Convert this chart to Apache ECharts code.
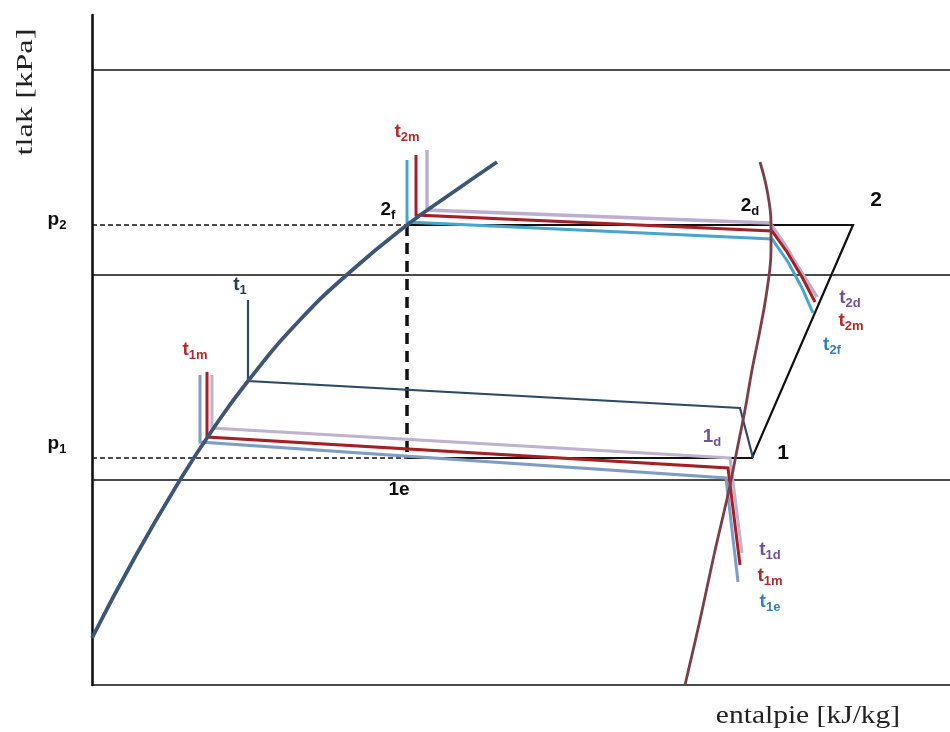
<!DOCTYPE html>
<html>
<head>
<meta charset="utf-8">
<script src="https://cdn.jsdelivr.net/npm/echarts@6/dist/echarts.min.js"></script>
<style>
  html, body { margin: 0; padding: 0; background: #ffffff; }
  #chart { width: 950px; height: 732px; }
</style>
</head>
<body>
<div id="chart"></div>
<script>
// Schematic p-h diagram of a refrigeration cycle.
// Diagram units: enthalpy h along x (0..858), pressure p along y (0..670).
const hRange = [0, 858];
const pRange = [0, 670];

// Evaporating / condensing pressure levels
const p1 = 227;
const p2 = 460;

// Reference isobars drawn across the whole diagram
const isobarLevels = [205, 410, 615];

// Saturation curves
const satLiquid = [[0, 47], [43, 128], [88, 205], [121, 256], [156, 304], [206, 363],
  [258, 413], [315, 460], [360, 492], [405, 523]];
const satVapor = [[668, 523], [675, 495], [679, 462], [679, 435], [675, 395], [668, 355], [660, 315],
  [653, 275], [645, 235], [637, 195], [622, 130], [608, 65], [593, 0]];

// Ideal cycle 1e -> 1 -> 2 -> 2f and the throttling 2f -> 1e
const idealCycle = [[315, p1], [660, p1], [761, p2], [315, p2]];
const throttling = [[315, p2], [315, p1]];
const p2Guide = [[0, p2], [315, p2]];
const p1Guide = [[0, p1], [315, p1]];

// Cycle with evaporation temperature t1
const cycleT1 = [[156, 385], [156, 304], [648, 277], [661, p1]];

// Condenser side profiles (d, m, f)
const condD = [[335, 535], [335, 475], [678, 462], [693, 440], [708, 415], [725, 388]];
const condM = [[324, 530], [324, 470], [680, 454], [695, 433], [710, 408], [723, 383]];
const condF = [[315, 525], [315, 463], [680, 446], [696, 423], [710, 397], [721, 372]];

// Evaporator side profiles (d, m, e)
const evapD = [[120, 310], [120, 257], [638, 227], [650, 132]];
const evapM = [[115, 313], [115, 248], [636, 217], [648, 120]];
const evapE = [[108, 310], [108, 243], [634, 207], [646, 103]];

// State point and temperature labels: main text, subscript, anchor (h, p), tone
const stateLabels = [
  ['t', '2m', [315, 553], 'red'],
  ['2', 'f', [296, 475], 'black'],
  ['2', 'd', [658, 479], 'black'],
  ['2', '', [784, 485], 'black'],
  ['t', '2d', [758, 387], 'purple'],
  ['t', '2m', [759, 364], 'red'],
  ['t', '2f', [740, 340], 'blue'],
  ['t', '1', [148, 400], 'slate'],
  ['t', '1m', [103, 335], 'red'],
  ['p', '2', [-35, 465], 'black'],
  ['p', '1', [-35, 241], 'black'],
  ['1', 'd', [620, 248], 'purple'],
  ['1', '', [691, 232], 'black'],
  ['1e', '', [307, 195], 'black'],
  ['t', '1d', [678, 135], 'purple'],
  ['t', '1m', [678, 109], 'red'],
  ['t', '1e', [678, 83], 'blue']
];

const tones = {
  red: '#b42a2a',
  black: '#0d0d0d',
  purple: '#72509c',
  blue: '#3580b6',
  slate: '#263b55'
};

const SANS = 'Arial, "Liberation Sans", sans-serif';
const SERIF = '"Liberation Serif", "Times New Roman", serif';

function path(name, data, color, width, extra) {
  return Object.assign({
    type: 'line',
    name: name,
    data: data,
    symbol: 'none',
    showSymbol: false,
    silent: true,
    animation: false,
    clip: false,
    lineStyle: { color: color, width: width, cap: 'butt', join: 'miter' }
  }, extra || {});
}

const series = [];

isobarLevels.forEach(function (lvl, i) {
  series.push(path('isobar' + i, [[hRange[0], lvl], [hRange[1], lvl]], '#111111', 1.3, { z: 1 }));
});

series.push(path('p2 guide', p2Guide, '#111111', 1.3, { z: 2, lineStyle: { color: '#111111', width: 1.3, type: [5, 3] } }));
series.push(path('p1 guide', p1Guide, '#111111', 1.3, { z: 2, lineStyle: { color: '#111111', width: 1.3, type: [5, 3] } }));
series.push(path('throttling', throttling, '#111111', 3.5, { z: 2, lineStyle: { color: '#111111', width: 3.5, type: [11, 7] } }));
series.push(path('ideal cycle', idealCycle, '#111111', 2.2, { z: 3 }));
series.push(path('cycle t1', cycleT1, '#2f4a63', 2.2, { z: 4 }));

series.push(path('evap d', evapD, '#c0b2ce', 3, { z: 5 }));
series.push(path('evap e', evapE, '#7f9cc4', 3, { z: 5 }));
series.push(path('evap m', evapM, '#a51f25', 3, { z: 6 }));

series.push(path('cond d', condD, '#bdaecf', 3.5, { z: 5 }));
series.push(path('cond f', condF, '#47a6cf', 3, { z: 5 }));
series.push(path('cond m', condM, '#a51f25', 3, { z: 6 }));

series.push(path('saturated liquid', satLiquid, '#3e5676', 3.8, { z: 7, smooth: 0.5 }));
series.push(path('saturated vapour', satVapor, '#7a3f49', 2.8, { z: 7, smooth: 0.4 }));

// Text labels placed at diagram coordinates
series.push({
  type: 'scatter',
  name: 'labels',
  symbolSize: 0,
  silent: true,
  animation: false,
  clip: false,
  z: 10,
  itemStyle: { opacity: 1 },
  data: stateLabels.map(function (l) {
    const c = tones[l[3]];
    const big = (l[0] === '2' || l[0] === '1') && l[3] === 'black' && l[1] === '';
    return {
      value: l[2],
      label: {
        show: true,
        position: 'inside',
        opacity: 1,
        color: c,
        fontWeight: 'bold',
        fontFamily: SANS,
        formatter: l[1] ? '{m|' + l[0] + '}{s|' + l[1] + '}' : '{m|' + l[0] + '}',
        rich: {
          m: { fontFamily: SANS, fontWeight: 'bold', fontSize: big ? 21 : 19, color: c, lineHeight: 24, verticalAlign: 'middle' },
          s: { fontFamily: SANS, fontWeight: 'bold', fontSize: 13, color: c, lineHeight: 13, verticalAlign: 'bottom' }
        }
      }
    };
  })
});

const chart = echarts.init(document.getElementById('chart'), null, { renderer: 'canvas' });
chart.setOption({
  backgroundColor: '#ffffff',
  animation: false,
  grid: { left: 92, right: 0, top: 15, bottom: 47 },
  xAxis: {
    type: 'value', min: hRange[0], max: hRange[1],
    axisLine: { show: true, lineStyle: { color: '#111111', width: 1.6 } },
    axisTick: { show: false }, axisLabel: { show: false }, splitLine: { show: false }
  },
  yAxis: {
    type: 'value', min: pRange[0], max: pRange[1],
    axisLine: { show: true, lineStyle: { color: '#111111', width: 2.6 } },
    axisTick: { show: false }, axisLabel: { show: false }, splitLine: { show: false }
  },
  graphic: [
    {
      type: 'text', x: 26, y: 92, rotation: Math.PI / 2, scaleX: 1.35,
      style: { text: 'tlak [kPa]', font: '24px ' + SERIF, fill: '#222222', align: 'center', verticalAlign: 'middle' }
    },
    {
      type: 'text', x: 808, y: 716, scaleX: 1.18,
      style: { text: 'entalpie [kJ/kg]', font: '25px ' + SERIF, fill: '#222222', align: 'center', verticalAlign: 'middle' }
    }
  ],
  series: series
});
</script>
</body>
</html>
